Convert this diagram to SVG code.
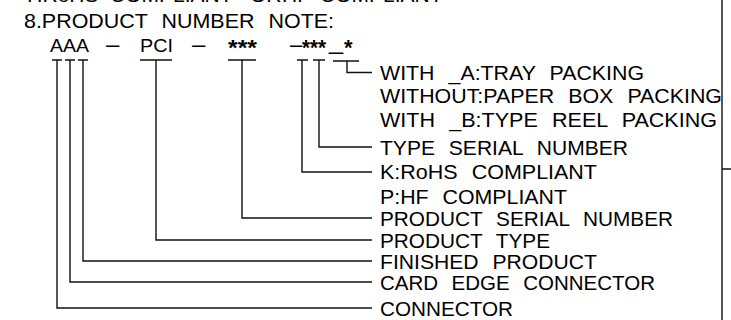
<svg xmlns="http://www.w3.org/2000/svg" width="731" height="320" viewBox="0 0 731 320">
<style>
  text { font-family: "Liberation Sans", Arial, sans-serif; fill: #000; }
  .lbl { font-size: 21px; word-spacing: 8px; }
  .hdr { font-size: 21px; word-spacing: 8px; }
  .code { font-size: 19px; }
  .ast { font-size: 22px; font-weight: bold; }
  .ln { fill: none; stroke: #111; stroke-width: 1.4; }
</style>
<rect width="731" height="320" fill="#fff"/>
<g id="top-note">
  <text class="hdr" y="2"><tspan x="25">7.RoHS</tspan><tspan x="110">COMPLIANT</tspan><tspan x="250">OR</tspan><tspan x="282">HF</tspan><tspan x="320">COMPLIANT</tspan></text>
</g>
<g id="title">
  <text class="hdr" x="24" y="28" textLength="310" lengthAdjust="spacingAndGlyphs">8.PRODUCT NUMBER NOTE:</text>
</g>
<g id="code">
  <text class="code" y="52"><tspan x="50" textLength="39" lengthAdjust="spacingAndGlyphs">AAA</tspan><tspan x="106" font-size="24">–</tspan><tspan x="140" y="52" textLength="33" lengthAdjust="spacingAndGlyphs">PCI</tspan><tspan x="192" font-size="24">–</tspan><tspan class="ast" x="228" y="55" textLength="29" lengthAdjust="spacingAndGlyphs">***</tspan><tspan x="290" y="52" font-size="22">–</tspan><tspan class="ast" x="302" y="55" textLength="24" lengthAdjust="spacingAndGlyphs">***</tspan><tspan x="329" y="49" font-size="24" textLength="14" lengthAdjust="spacingAndGlyphs">_</tspan><tspan class="ast" x="344" y="55">*</tspan></text>
</g>
<g id="labels">
  <text id="lbl-with-a" class="lbl" x="380" y="80" textLength="264" lengthAdjust="spacingAndGlyphs">WITH _A:TRAY PACKING</text>
  <text id="lbl-without" class="lbl" x="380" y="103" textLength="342" lengthAdjust="spacingAndGlyphs">WITHOUT:PAPER BOX PACKING</text>
  <text id="lbl-with-b" class="lbl" x="380" y="127" textLength="337" lengthAdjust="spacingAndGlyphs">WITH _B:TYPE REEL PACKING</text>
  <text id="lbl-type-serial" class="lbl" x="380" y="155" textLength="248" lengthAdjust="spacingAndGlyphs">TYPE SERIAL NUMBER</text>
  <text id="lbl-rohs" class="lbl" x="380" y="179" textLength="217" lengthAdjust="spacingAndGlyphs">K:RoHS COMPLIANT</text>
  <text id="lbl-hf" class="lbl" x="380" y="204" textLength="187" lengthAdjust="spacingAndGlyphs">P:HF COMPLIANT</text>
  <text id="lbl-prod-serial" class="lbl" x="380" y="226" textLength="293" lengthAdjust="spacingAndGlyphs">PRODUCT SERIAL NUMBER</text>
  <text id="lbl-prod-type" class="lbl" x="380" y="248" textLength="170" lengthAdjust="spacingAndGlyphs">PRODUCT TYPE</text>
  <text id="lbl-finished" class="lbl" x="380" y="269" textLength="217" lengthAdjust="spacingAndGlyphs">FINISHED PRODUCT</text>
  <text id="lbl-card-edge" class="lbl" x="380" y="290" textLength="275" lengthAdjust="spacingAndGlyphs">CARD EDGE CONNECTOR</text>
  <text id="lbl-connector" class="lbl" x="380" y="316" textLength="133" lengthAdjust="spacingAndGlyphs">CONNECTOR</text>
</g>
<g id="connectors">
  <path class="ln" d="M52 60H62M57 60V308H372"/>
  <path class="ln" d="M65 60H75M70 60V282H372"/>
  <path class="ln" d="M78 60H88M83 60V261H372"/>
  <path class="ln" d="M140 60H172M156 60V240H372"/>
  <path class="ln" d="M228 60H256M242 60V218H372"/>
  <path class="ln" d="M297 60H308M302 60V172H372"/>
  <path class="ln" d="M313 60H325M319 60V147H372"/>
  <path class="ln" d="M333 61H359M347 61V72.5H372"/>
</g>
<g id="frame">
  <path class="ln" d="M722 0V320M722 169H731"/>
</g>
</svg>
